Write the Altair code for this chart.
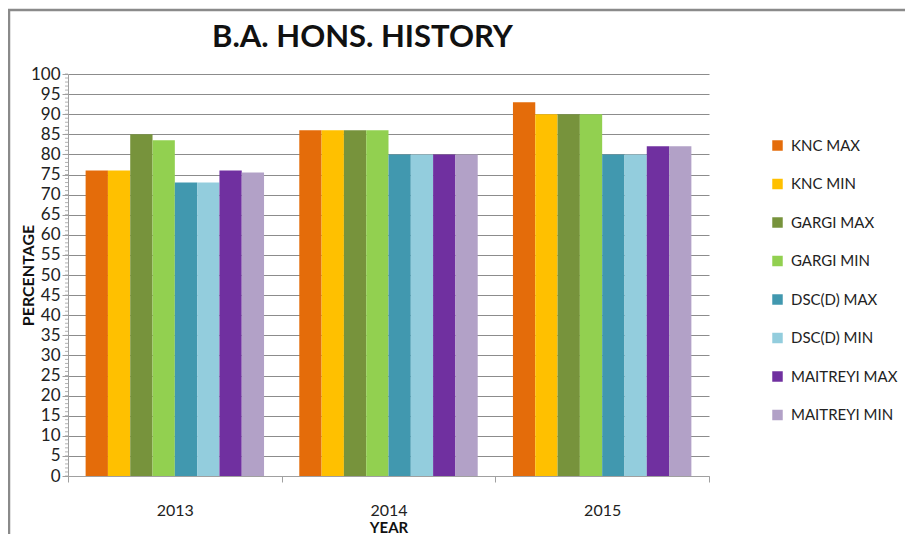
import altair as alt
import pandas as pd

years = ["2013", "2014", "2015"]
series = ["KNC MAX", "KNC MIN", "GARGI MAX", "GARGI MIN",
          "DSC(D) MAX", "DSC(D) MIN", "MAITREYI MAX", "MAITREYI MIN"]
colors = ["#E46C0A", "#FFC000", "#77933C", "#92D050",
          "#4198AF", "#93CDDD", "#7030A0", "#B2A1C7"]
values = {
    "KNC MAX":      [76, 86, 93],
    "KNC MIN":      [76, 86, 90],
    "GARGI MAX":    [85, 86, 90],
    "GARGI MIN":    [83.5, 86, 90],
    "DSC(D) MAX":   [73, 80, 80],
    "DSC(D) MIN":   [73, 80, 80],
    "MAITREYI MAX": [76, 80, 82],
    "MAITREYI MIN": [75.5, 80, 82],
}
minor_ticks = list(range(0, 101))

rows = []
for s in series:
    for y, v in zip(years, values[s]):
        rows.append({"YEAR": y, "Series": s, "PERCENTAGE": v})
df = pd.DataFrame(rows)

FONT = "Lato"

y_axis = alt.Axis(title="PERCENTAGE", values=list(range(0, 101, 5)),
                  labelOverlap=False,
                  labelFontSize=17, titleFontSize=16, titleFontWeight="bold",
                  titlePadding=-6, tickSize=6, labelPadding=2,
                  domainColor="#A0A0A0", tickColor="#A0A0A0",
                  gridColor="#8C8C8C", gridWidth=1.2,
                  labelColor="#222", titleColor="#111")
y_scale = alt.Scale(domain=[0, 100], nice=False)

bars = alt.Chart(df).mark_bar(stroke=None).encode(
    x=alt.X("YEAR:N", sort=years,
            scale=alt.Scale(paddingInner=0, paddingOuter=0),
            axis=alt.Axis(title="YEAR", labelAngle=0, labelFontSize=16,
                          labelPadding=20, titleFontSize=15, titleFontWeight="bold",
                          titlePadding=2, tickBand="extent", tickSize=6,
                          domainColor="#A0A0A0", tickColor="#A0A0A0",
                          labelColor="#222", titleColor="#111", grid=False)),
    xOffset=alt.XOffset("Series:N", sort=series,
                        scale=alt.Scale(paddingInner=0, paddingOuter=0.79)),
    y=alt.Y("PERCENTAGE:Q", scale=y_scale, axis=y_axis),
    color=alt.Color("Series:N", sort=series,
                    scale=alt.Scale(domain=series, range=colors),
                    legend=alt.Legend(title=None, orient="none", legendX=702, legendY=64,
                                      symbolType="square", symbolSize=110,
                                      symbolStrokeWidth=0,
                                      labelFontSize=15, labelColor="#222",
                                      rowPadding=22.5, labelOffset=6)),
)

minor = alt.Chart(pd.DataFrame({"PERCENTAGE": minor_ticks})).mark_rule(
    color="#A0A0A0", strokeWidth=0.8
).encode(
    y=alt.Y("PERCENTAGE:Q", scale=y_scale, axis=y_axis),
    x=alt.value(-3),
    x2=alt.value(0),
)

frame_df = pd.DataFrame({"f": [0]})
frame_left = alt.Chart(frame_df).mark_rule(color="#8A8A8A", strokeWidth=2.5).encode(
    x=alt.value(-59), y=alt.value(-65), y2=alt.value(480)
)
frame_top = alt.Chart(frame_df).mark_rule(color="#8A8A8A", strokeWidth=2.5).encode(
    x=alt.value(-60), x2=alt.value(850), y=alt.value(-64)
)

chart = alt.layer(bars, minor, frame_left, frame_top).properties(
    width=641, height=402,
    autosize=alt.AutoSizeParams(type="none"),
    padding={"left": 60, "top": 66, "right": 196, "bottom": 58},
    title=alt.TitleParams("B.A. HONS.  HISTORY", fontSize=31, fontWeight="bold",
                          color="#111", font=FONT, anchor="middle", offset=-46, dx=-26),
).configure(font=FONT).configure_view(stroke=None)

chart.save("out.html", embed_options={"renderer": "svg", "actions": False})
